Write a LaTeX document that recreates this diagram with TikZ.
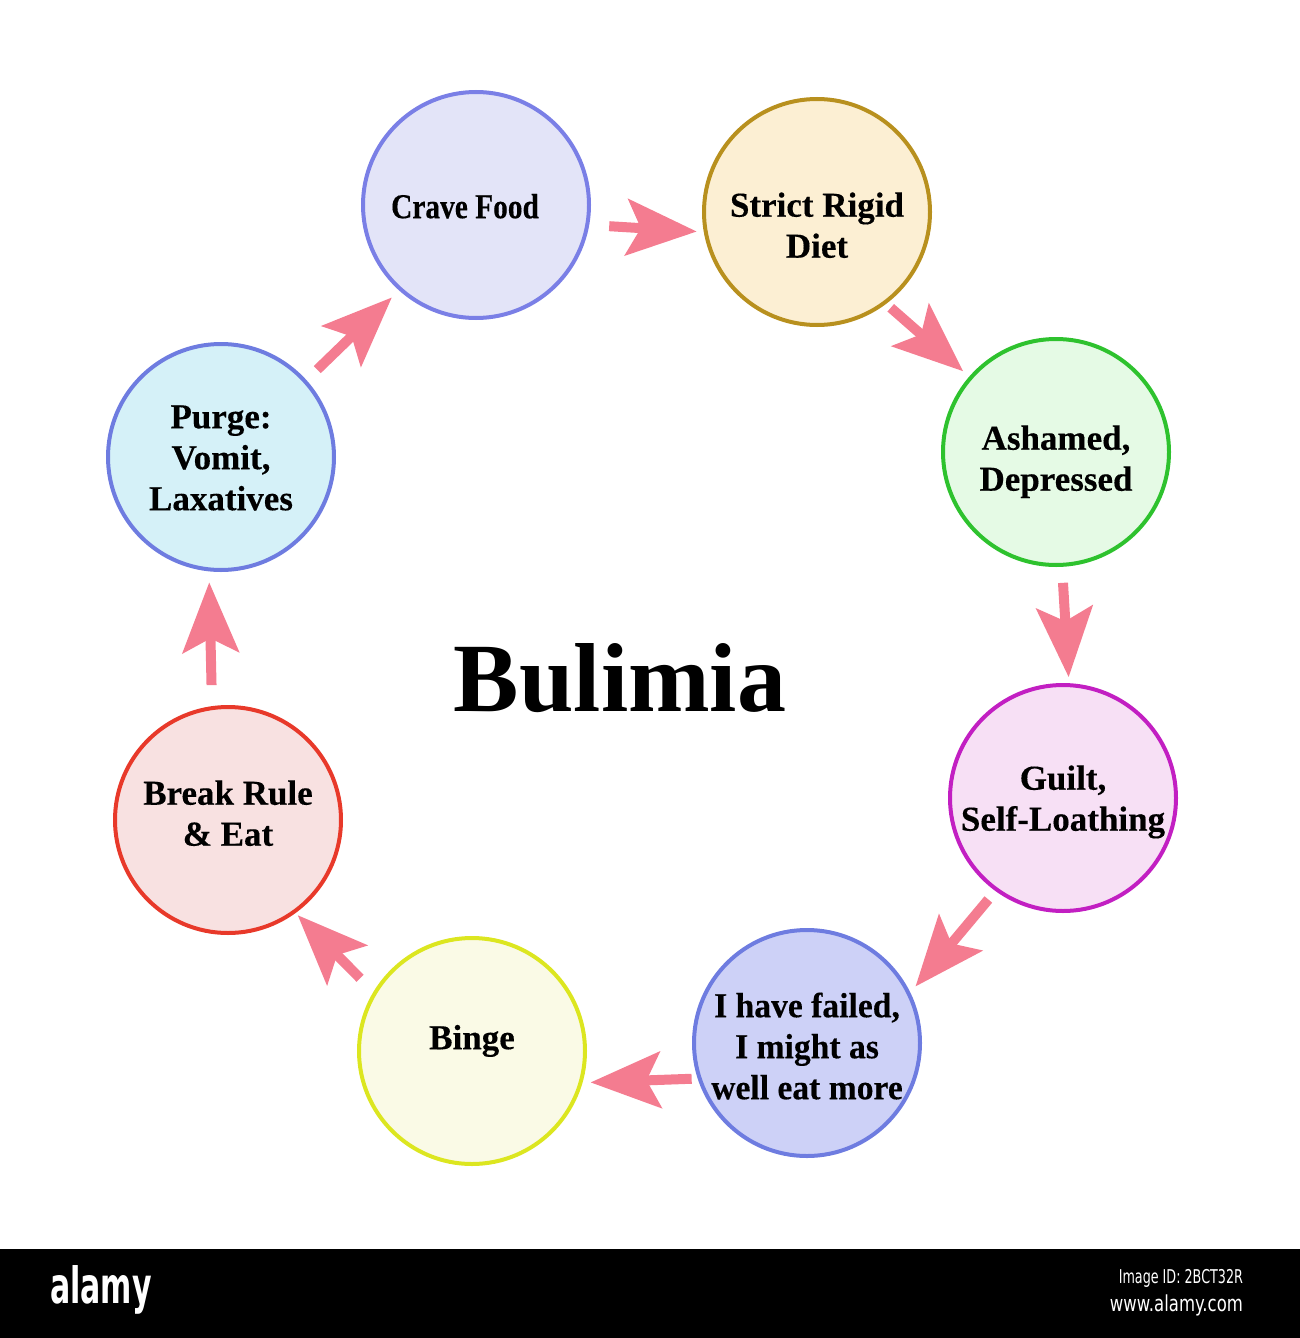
\documentclass[tikz,border=0pt]{standalone}
\usepackage{fontspec}
\setmainfont{Liberation Serif}
\newfontfamily\phasefont[BoldFeatures={FakeBold=0.3}]{Liberation Serif}
\newfontfamily\barfont{DejaVu Sans}
\usetikzlibrary{arrows.meta}
\definecolor{arrowpink}{HTML}{F47C90}
\definecolor{craveline}{HTML}{7A7FE6}
\definecolor{cravefill}{HTML}{E3E4F8}
\definecolor{dietline}{HTML}{B8901E}
\definecolor{dietfill}{HTML}{FCEFD3}
\definecolor{shameline}{HTML}{2EC22E}
\definecolor{shamefill}{HTML}{E5FAE5}
\definecolor{guiltline}{HTML}{C21FC2}
\definecolor{guiltfill}{HTML}{F7E0F5}
\definecolor{failline}{HTML}{6E7CE0}
\definecolor{failfill}{HTML}{CDD1F7}
\definecolor{bingeline}{HTML}{DCE620}
\definecolor{bingefill}{HTML}{FAFAE6}
\definecolor{ruleline}{HTML}{E8392A}
\definecolor{rulefill}{HTML}{F8E1E1}
\definecolor{purgeline}{HTML}{6E7CE0}
\definecolor{purgefill}{HTML}{D5F1F8}
% text of a circle, moved up or down by #1
\newcommand{\phasetext}[2]{\raisebox{#1}[\height][\depth]{\makebox[0pt]{\begin{tabular}{@{}c@{}}#2\end{tabular}}}}

\begin{document}
\begin{tikzpicture}[x=0.5pt,y=-0.5pt,
    phase/.style={circle,line width=2pt,minimum size=113pt,inner sep=0pt,
      font=\phasefont\fontsize{17.5}{20.5}\selectfont\bfseries},
    cycarrow/.style={draw=arrowpink,line width=5pt,
      -{Stealth[length=35pt,width=28pt,inset=7pt]}}]
    \useasboundingbox (0,0) rectangle (1300,1338);

    \path
    (476,205) node[phase,draw=craveline,fill=cravefill] (crave) {\phasetext{-2.5pt}{\scalebox{0.84}[1]{Crave Food}\kern11pt}}
    (817,212) node[phase,draw=dietline,fill=dietfill] (diet) {\phasetext{-8.5pt}{Strict Rigid\\Diet}}
    (1056,452) node[phase,draw=shameline,fill=shamefill] (ashamed) {\phasetext{-5pt}{Ashamed,\\Depressed}}
    (1063,798) node[phase,draw=guiltline,fill=guiltfill] (guilt) {\phasetext{-2pt}{Guilt,\\Self-Loathing}}
    (807,1043) node[phase,draw=failline,fill=failfill] (failed) {\phasetext{-3.5pt}{\scalebox{0.96}[1]{I have failed,}\\\scalebox{0.96}[1]{I might as}\\\scalebox{0.96}[1]{well eat more}}}
    (472,1051) node[phase,draw=bingeline,fill=bingefill] (binge) {\phasetext{5pt}{Binge}}
    (228,820) node[phase,draw=ruleline,fill=rulefill] (breakrule) {\phasetext{1.5pt}{Break Rule\\\& Eat}}
    (221,457) node[phase,draw=purgeline,fill=purgefill] (purge) {\phasetext{-2pt}{Purge:\\Vomit,\\Laxatives}}
    ;
    \node[font=\fontsize{49}{55}\selectfont\bfseries] (title) at (620,678) {Bulimia};

    \draw[cycarrow,shorten <=10pt,shorten >=3.5pt] (crave.-10) -- (diet.190);
    \draw[cycarrow,shorten <=3pt,shorten >=4pt] (diet.-53) -- (ashamed.139);
    \draw[cycarrow,shorten <=8pt,shorten >=3pt] (ashamed.-87) -- (guilt.87);
    \draw[cycarrow,shorten <=5.5pt,shorten >=4pt] (guilt.234) -- (failed.26);
    \draw[cycarrow,shorten <=3pt,shorten >=4pt] (failed.198) -- (binge.-16);
    \draw[cycarrow,shorten <=9.5pt,shorten >=1.5pt] (binge.149) -- (breakrule.-54);
    \draw[cycarrow,shorten <=10.5pt,shorten >=5.5pt] (breakrule.98) -- (purge.264);
    \draw[cycarrow,shorten <=7.5pt,shorten >=5pt] (purge.42) -- (crave.228);

    % stock photo footer
    \fill[black] (0,1249) rectangle (1300,1338);
    \node[text=white,font=\barfont\bfseries\fontsize{25}{30}\selectfont] (logo) at (101,1290) {\scalebox{0.6}[1]{alamy}};
    \node[text=white,font=\barfont\fontsize{9.5}{11}\selectfont,anchor=east] (imageid) at (1250,1278) {\scalebox{0.67}[1]{Image ID: 2BCT32R}};
    \node[text=white,font=\barfont\fontsize{11}{13}\selectfont,anchor=east] (site) at (1250,1305) {\scalebox{0.75}[1]{www.alamy.com}};
  \end{tikzpicture}
\end{document}
